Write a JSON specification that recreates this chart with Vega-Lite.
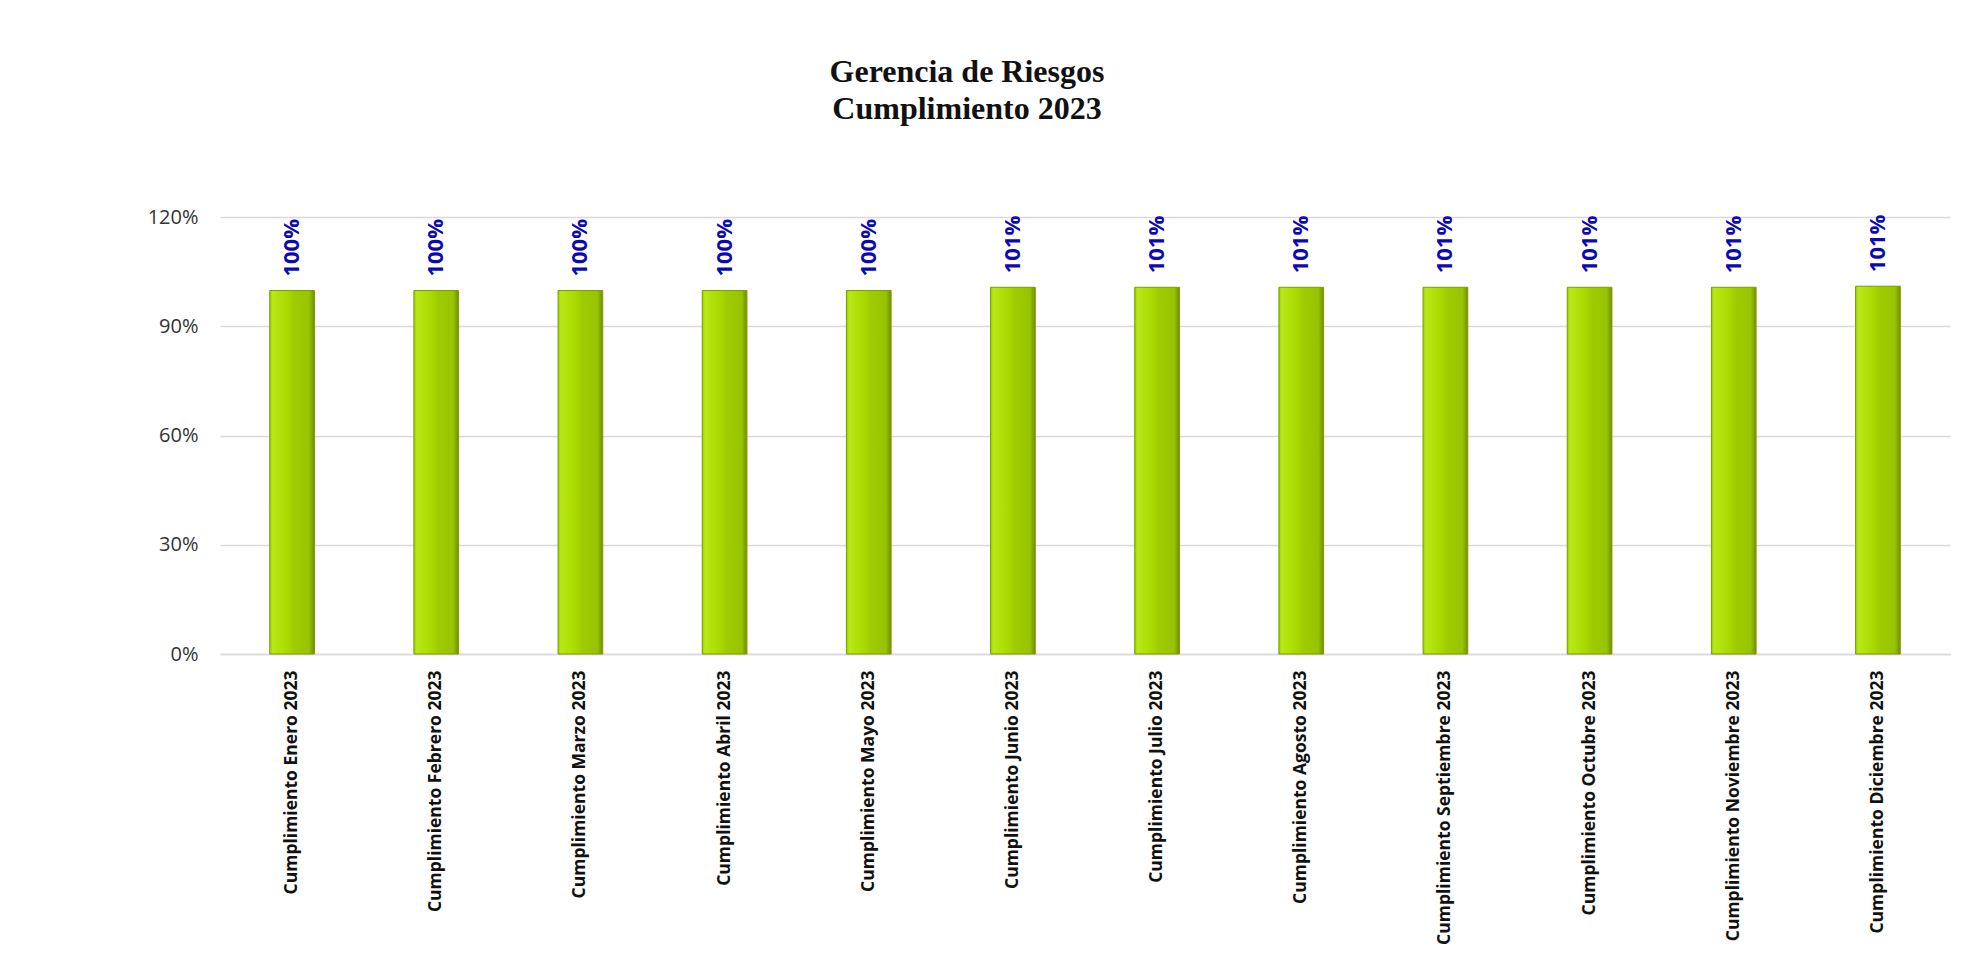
{
  "$schema": "https://vega.github.io/schema/vega-lite/v6.json",
  "autosize": {"type": "none"},
  "width": 1730,
  "height": 437,
  "padding": {"left": 220, "top": 217, "right": 22, "bottom": 308},
  "background": "white",
  "title": {
    "text": ["Gerencia de Riesgos", "Cumplimiento 2023"],
    "font": "Liberation Serif",
    "fontSize": 32,
    "fontWeight": "bold",
    "color": "#111111",
    "lineHeight": 37,
    "anchor": "middle",
    "baseline": "alphabetic",
    "offset": 56,
    "dx": -118
  },
  "config": {
    "view": {"stroke": null},
    "axis": {"grid": false}
  },
  "data": {
    "values": [
      {"mes": "Cumplimiento Enero 2023", "valor": 0.998},
      {"mes": "Cumplimiento Febrero 2023", "valor": 0.998},
      {"mes": "Cumplimiento Marzo 2023", "valor": 0.998},
      {"mes": "Cumplimiento Abril 2023", "valor": 0.998},
      {"mes": "Cumplimiento Mayo 2023", "valor": 0.998},
      {"mes": "Cumplimiento Junio 2023", "valor": 1.007},
      {"mes": "Cumplimiento Julio 2023", "valor": 1.007},
      {"mes": "Cumplimiento Agosto 2023", "valor": 1.007},
      {"mes": "Cumplimiento Septiembre 2023", "valor": 1.007},
      {"mes": "Cumplimiento Octubre 2023", "valor": 1.007},
      {"mes": "Cumplimiento Noviembre 2023", "valor": 1.007},
      {"mes": "Cumplimiento Diciembre 2023", "valor": 1.01}
    ]
  },
  "encoding": {
    "x": {
      "field": "mes",
      "type": "nominal",
      "sort": null,
      "scale": {"paddingInner": 0.69, "paddingOuter": 0.345},
      "axis": {
        "title": null,
        "labelAngle": -90,
        "labelAlign": "right",
        "labelBaseline": "middle",
        "labelFont": "Open Sans",
        "labelFontSize": 17.5,
        "labelFontWeight": "bold",
        "labelColor": "#111111",
        "labelPadding": 16,
        "labelLimit": 0,
        "ticks": false,
        "domainColor": "#d9d9d9",
        "domainWidth": 1.5
      }
    },
    "y": {
      "field": "valor",
      "type": "quantitative",
      "scale": {"domain": [0, 1.2], "nice": false},
      "axis": {
        "title": null,
        "values": [0, 0.3, 0.6, 0.9, 1.2],
        "format": ".0%",
        "grid": true,
        "gridColor": "#d9d9d9",
        "gridWidth": 1.5,
        "domain": false,
        "ticks": false,
        "labelFont": "Open Sans",
        "labelFontSize": 20,
        "labelColor": "#333333",
        "labelPadding": 22
      }
    }
  },
  "layer": [
    {
      "mark": {
        "type": "bar",
        "stroke": "#7a9c00",
        "strokeWidth": 1,
        "color": {
          "gradient": "linear",
          "x1": 0, "x2": 1, "y1": 0, "y2": 0,
          "stops": [
            {"offset": 0, "color": "#9ccc00"},
            {"offset": 0.06, "color": "#b8e818"},
            {"offset": 0.4, "color": "#aad900"},
            {"offset": 0.55, "color": "#9ecb00"},
            {"offset": 0.88, "color": "#98c400"},
            {"offset": 1, "color": "#6e8e00"}
          ]
        }
      }
    },
    {
      "mark": {
        "type": "text",
        "angle": 270,
        "align": "left",
        "baseline": "middle",
        "dx": 14,
        "font": "Open Sans",
        "fontSize": 22,
        "fontWeight": "bold",
        "color": "#0a0ab4"
      },
      "encoding": {
        "text": {"field": "valor", "type": "quantitative", "format": ".0%"}
      }
    }
  ]
}
